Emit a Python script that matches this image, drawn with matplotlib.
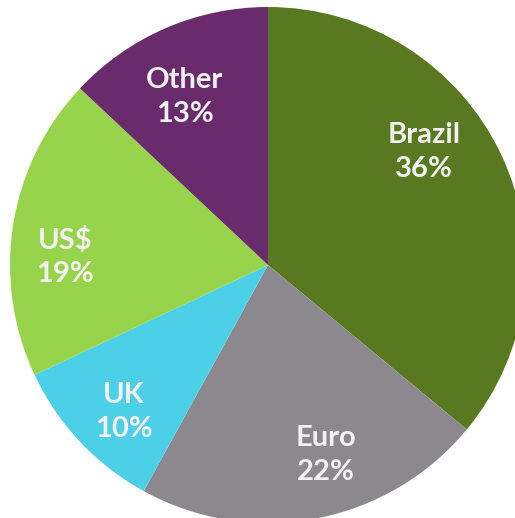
import matplotlib.pyplot as plt

currencies = ["Brazil", "Euro", "UK", "US$", "Other"]
shares = [36, 22, 10, 19, 13]
colors = ["#58791f", "#8b898e", "#4cd0e7", "#98d44b", "#6a2b6c"]
# label centres in pixel units relative to the pie centre
label_pos = [(156, 113), (58, -190), (-144, -147), (-203, 8), (-83, 168)]

fig = plt.figure(figsize=(5.15, 5.18), dpi=100)
ax = fig.add_axes([0, 0, 1, 1])
ax.pie(shares, colors=colors, startangle=90, counterclock=False,
       radius=258, wedgeprops=dict(linewidth=0))
ax.set_aspect("auto")
ax.set_xlim(-268, 515 - 268)
ax.set_ylim(-253, 518 - 253)
ax.axis("off")

for name, val, (x, y) in zip(currencies, shares, label_pos):
    ax.text(x, y, f"{name}\n{val}%", ha="center", va="center", color="#f2f2f2",
            fontsize=21, fontweight="bold", family="Lato", linespacing=1.35)

fig.savefig("out.png", dpi=100, facecolor="white")
